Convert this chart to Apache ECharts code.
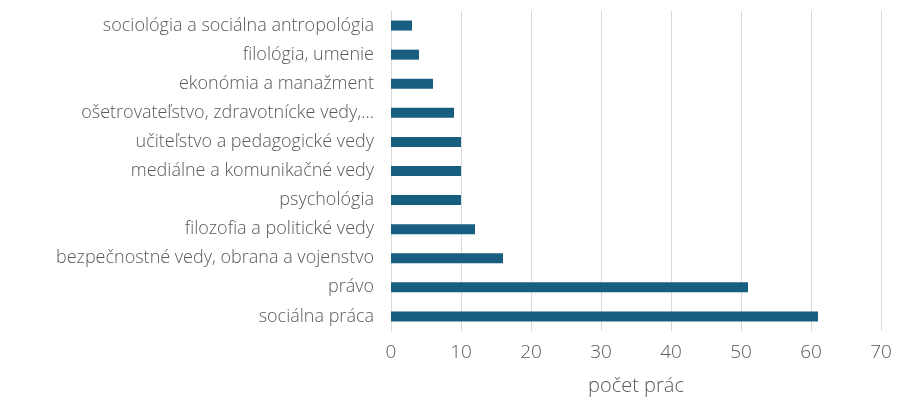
<!DOCTYPE html>
<html>
<head>
<meta charset="utf-8">
<script src="https://cdn.jsdelivr.net/npm/echarts@6/dist/echarts.min.js"></script>
<style>
  html, body { margin: 0; padding: 0; background: #fff; }
  #chart { width: 910px; height: 401px; }
</style>
</head>
<body>
<div id="chart"></div>
<script>
const categories = [
  'sociológia a sociálna antropológia',
  'filológia, umenie',
  'ekonómia a manažment',
  'ošetrovateľstvo, zdravotnícke vedy,...',
  'učiteľstvo a pedagogické vedy',
  'mediálne a komunikačné vedy',
  'psychológia',
  'filozofia a politické vedy',
  'bezpečnostné vedy, obrana a vojenstvo',
  'právo',
  'sociálna práca'
]
const counts = [3, 4, 6, 9, 10, 10, 10, 12, 16, 51, 61]
const axisName = 'počet prác'

const font = 'Open Sans'
const textColor = '#595959'

var myChart = echarts.init(document.getElementById('chart'))
myChart.setOption({
  animation: false,
  grid: { left: 391, right: 29, top: 11, bottom: 64, containLabel: false },
  xAxis: {
    type: 'value',
    min: 0,
    max: 70,
    interval: 10,
    name: axisName,
    nameLocation: 'middle',
    nameGap: 45,
    nameTextStyle: { color: textColor, fontSize: 20, fontFamily: font, fontWeight: 300 },
    axisLine: { show: false },
    axisTick: { show: false },
    axisLabel: { color: textColor, fontSize: 19, fontFamily: font, fontWeight: 300, margin: 12 },
    splitLine: { lineStyle: { color: '#d9d9d9', width: 1 } }
  },
  yAxis: {
    type: 'category',
    inverse: true,
    data: categories,
    axisLine: { show: true, lineStyle: { color: '#d9d9d9' } },
    axisTick: { show: false },
    axisLabel: { color: textColor, fontSize: 18, fontFamily: font, fontWeight: 300, margin: 17 }
  },
  series: [
    {
      type: 'bar',
      data: counts,
      barWidth: 10,
      itemStyle: { color: '#175e80' }
    }
  ]
})
</script>
</body>
</html>
